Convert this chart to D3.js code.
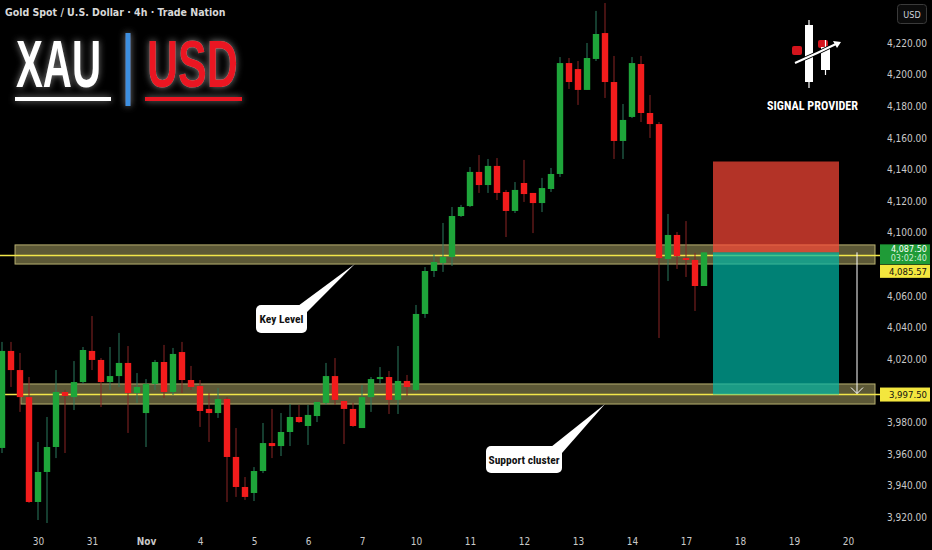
<!DOCTYPE html>
<html><head><meta charset="utf-8">
<script src="https://cdn.jsdelivr.net/npm/d3@7"></script>
<style>
html,body{margin:0;padding:0;background:#000;}
svg{display:block;}
</style></head><body>
<svg id="c" width="932" height="550"></svg>
<script>
// ---------- DATA ----------
const dayLabels = ["30","31","Nov","4","5","6","7","10","11","12","13","14","17","18","19","20"];
const candlesPerDay = 6;
const firstCandle = -4; // candles before first labelled day start
const opens  = [3963.7,4025.1,4013.0,3995.9,3929.5,3948.5,3964.3,3999.1,3995.9,4005.4,4025.1,4019.4,4005.4,4009.2,4017.5,3998.5,3985.8,4004.2,4018.1,3999.1,4024.4,4006.7,4002.9,3988.4,3985.8,3994.7,3958.0,3939.0,3935.2,3949.1,3966.8,3964.9,3973.8,3983.3,3977.6,3983.9,3992.2,4009.2,3993.4,3988.4,3976.3,3995.9,4007.3,4008.6,3994.1,4006.1,4000.4,4048.5,4075.7,4080.8,4084.6,4110.5,4116.8,4138.4,4130.1,4142.2,4125.7,4113.7,4131.4,4125.1,4118.7,4127.6,4137.1,4207.3,4203.5,4190.3,4209.9,4226.3,4195.3,4158.0,4173.2,4206.7,4175.7,4168.7,4083.3,4098.5,4083.9,4082.7,4066.2];
const highs  = [4030.8,4030.8,4023.8,4008.6,3967.5,3983.3,4013.0,4000.4,4018.7,4027.6,4047.2,4020.6,4027.6,4036.5,4028.2,4011.1,4007.3,4019.4,4028.9,4027.0,4030.8,4015.6,4006.7,3998.5,4001.6,3995.9,3976.3,3945.3,3951.6,3979.5,3988.4,3985.8,3991.5,3990.9,3990.9,3992.8,4017.5,4020.6,3993.4,3992.2,4003.5,4008.6,4014.9,4012.4,4028.2,4009.9,4054.2,4078.2,4086.5,4106.1,4116.2,4117.5,4141.5,4149.1,4146.6,4147.2,4127.0,4132.0,4146.0,4125.1,4134.6,4140.9,4211.1,4210.5,4208.6,4220.0,4240.3,4245.3,4211.8,4181.4,4211.1,4211.8,4187.1,4170.0,4111.8,4100.4,4107.3,4087.1,4087.5];
const lows   = [3960.5,4002.3,3986.5,3928.9,3918.1,3916.2,3957.3,3960.5,3987.7,4004.2,4013.0,3989.6,4000.4,4002.3,3973.2,3992.2,3964.3,4000.4,3995.3,3997.2,3998.5,4000.4,3977.0,3967.5,3982.7,3929.5,3932.7,3930.8,3930.1,3947.8,3957.3,3958.6,3964.9,3979.5,3965.6,3980.1,3990.9,3990.9,3966.2,3977.0,3976.3,3986.5,4004.2,3985.2,3985.2,3996.6,3999.7,4046.0,4071.9,4075.1,4078.9,4109.9,4116.2,4125.1,4125.1,4120.6,4097.2,4112.4,4119.4,4099.7,4113.0,4125.7,4135.2,4190.9,4180.8,4190.3,4208.6,4185.2,4146.6,4146.6,4172.5,4170.0,4159.9,4033.3,4069.4,4077.0,4071.9,4050.4,4066.2];
const closes = [4025.1,4013.0,3995.9,3929.5,3948.5,3964.3,3999.1,3996.6,4005.4,4025.7,4019.4,4005.4,4009.2,4017.5,3998.5,4002.3,4004.2,4018.1,3999.1,4023.2,4006.7,4002.3,3987.1,3985.8,3994.7,3958.0,3939.0,3932.7,3949.1,3966.8,3964.9,3973.8,3983.3,3980.1,3984.6,3992.8,4009.2,3994.1,3988.4,3977.6,3995.9,4007.3,4008.6,3994.1,4006.1,4002.3,4048.5,4075.7,4081.4,4084.6,4110.5,4116.2,4138.4,4130.1,4142.2,4125.1,4113.7,4127.0,4124.4,4118.7,4128.2,4137.1,4207.3,4195.3,4190.3,4210.5,4225.7,4195.3,4158.0,4171.3,4207.3,4175.7,4168.7,4083.9,4098.5,4085.2,4082.7,4066.2,4087.5];
const yTicks = [3920,3940,3960,3980,4000,4020,4040,4060,4080,4100,4120,4140,4160,4180,4200,4220];
const keyZone = [4080.1, 4092.2];
const supportZone = [3991.5, 4004.2];
const keyLine = 4085.57;
const supportLine = 3997.5;
const lastPrice = 4087.5;
const countdown = "03:02:40";
const trade = {entry: 4087.5, stop: 4145, target: 3997.5};

// ---------- SCALES ----------
const svg = d3.select("#c");
const x = d3.scaleLinear().domain([-4, 74]).range([2, 704]);
const y = d3.scaleLinear().domain([3920, 4220]).range([517, 43]);
const axisX = 880;

svg.append("rect").attr("width",932).attr("height",550).attr("fill","#000");

const defs = svg.append("defs");
const glow = defs.append("filter").attr("id","glow").attr("x","-30%").attr("y","-30%").attr("width","160%").attr("height","160%");
glow.append("feGaussianBlur").attr("in","SourceAlpha").attr("stdDeviation",3.5).attr("result","b");
glow.append("feFlood").attr("flood-color","#ffffff").attr("flood-opacity",0.5);
glow.append("feComposite").attr("in2","b").attr("operator","in").attr("result","g");
const fm = glow.append("feMerge");
fm.append("feMergeNode").attr("in","g");
fm.append("feMergeNode").attr("in","SourceGraphic");

// ---------- ZONES ----------
function zone(z, line, x0) {
  const g = svg.append("g");
  g.append("rect").attr("x", x(x0)).attr("width", 875 - x(x0))
    .attr("y", y(z[1])).attr("height", y(z[0]) - y(z[1]))
    .attr("fill", "#5c5836").attr("stroke", "#b8b070").attr("stroke-width", 1);
  g.append("line").attr("x1", 0).attr("x2", axisX).attr("y1", y(line)).attr("y2", y(line))
    .attr("stroke", "#f2e64a").attr("stroke-width", 1.5);
}
zone(keyZone, keyLine, -2.55);
zone(supportZone, supportLine, -1.9);

// ---------- CANDLES ----------
const idx = opens.map((d,i)=>i+firstCandle);
const cg = svg.append("g");
idx.forEach((t,i)=>{
  const up = closes[i] >= opens[i];
  cg.append("line").attr("x1",x(t)).attr("x2",x(t))
    .attr("y1",y(highs[i])).attr("y2",y(lows[i]))
    .attr("stroke", up ? "#2a7a5e" : "#8a2424").attr("stroke-width",1);
  const top = y(Math.max(opens[i],closes[i])), bot = y(Math.min(opens[i],closes[i]));
  cg.append("rect").attr("x",x(t)-3.2).attr("width",6.4)
    .attr("y",top).attr("height",Math.max(1.5,bot-top))
    .attr("fill", up ? "#1ea53a" : "#f21c1c");
});

// ---------- POSITION TOOL ----------
svg.append("rect").attr("x",x(75)).attr("width",x(89)-x(75))
  .attr("y",y(trade.stop)).attr("height",y(trade.entry)-y(trade.stop))
  .attr("fill","rgb(255,72,56)").attr("opacity",0.7);
svg.append("rect").attr("x",x(75)).attr("width",x(89)-x(75))
  .attr("y",y(trade.entry)).attr("height",y(trade.target)-y(trade.entry))
  .attr("fill","rgb(0,184,166)").attr("opacity",0.7);
const ax = x(91);
svg.append("line").attr("x1",ax).attr("x2",ax).attr("y1",y(trade.entry)).attr("y2",y(trade.target)-1)
  .attr("stroke","#ffffff").attr("stroke-width",1);
svg.append("path").attr("d",`M${ax-6},${y(trade.target)-7}L${ax},${y(trade.target)-1}L${ax+6},${y(trade.target)-7}`)
  .attr("fill","none").attr("stroke","#ffffff").attr("stroke-width",1);

// ---------- CALLOUTS ----------
function callout(text, bx, by, bw, bh, base, tip) {
  const g = svg.append("g");
  g.append("path").attr("d",`M${base[0][0]},${base[0][1]}L${tip[0]},${tip[1]}L${base[1][0]},${base[1][1]}Z`).attr("fill","#fff");
  g.append("rect").attr("x",bx).attr("y",by).attr("width",bw).attr("height",bh).attr("rx",5).attr("fill","#fff");
  g.append("text").attr("x",bx+bw/2).attr("y",by+bh/2+4).attr("text-anchor","middle")
    .attr("font-family","'Liberation Sans Narrow','Roboto Condensed','DejaVu Sans Condensed',Arial,sans-serif")
    .attr("font-size",11.5).attr("font-weight","bold").attr("fill","#111").text(text);
}
callout("Key Level", 256, 305, 51, 28, [[298,306],[307,312]], [x(35.2), y(keyZone[0])]);
callout("Support cluster", 486, 446, 76, 27, [[551,447],[562,453]], [x(63), y(supportZone[0])]);

// ---------- AXES ----------
const fontAxis = "'Liberation Sans Narrow','DejaVu Sans Condensed',Arial,sans-serif";
const boxed = [lastPrice, keyLine, supportLine];
const yAxis = svg.append("g").attr("transform",`translate(${axisX},0)`)
  .call(d3.axisRight(y).tickValues(yTicks).tickFormat(d3.format(",.2f")).tickSize(0).tickPadding(0));
yAxis.select(".domain").remove();
yAxis.selectAll("text").attr("x",47).attr("text-anchor","end").attr("fill","#c9c9c9")
  .attr("font-family",fontAxis).attr("font-size",10);
// hide tick labels covered by price boxes (as the reference does)
yAxis.selectAll(".tick").filter(d => boxed.some(b => Math.abs(y(b) - y(d)) < 16)).remove();

const xAxis = svg.append("g").attr("transform","translate(0,537)")
  .call(d3.axisBottom(x).tickValues(dayLabels.map((d,k)=>k*candlesPerDay)).tickFormat((d,k)=>dayLabels[k]).tickSize(0).tickPadding(0));
xAxis.select(".domain").remove();
xAxis.selectAll("text").attr("fill","#c9c9c9").attr("font-family",fontAxis).attr("font-size",10)
  .attr("dy","0.75em").attr("font-weight",(d,k)=>dayLabels[k]==="Nov"?"bold":"normal");

// price labels on axis
function priceBox(yTop, h, fill, lines, color, fs) {
  const g = svg.append("g");
  g.append("rect").attr("x",axisX).attr("y",yTop).attr("width",50).attr("height",h).attr("fill",fill);
  lines.forEach((l,k)=>{
    g.append("text").attr("x",927).attr("y",yTop + (lines.length===1 ? h/2+3.3 : 8 + k*9)).attr("text-anchor","end")
      .attr("font-family",fontAxis).attr("font-size",fs).attr("fill",l.c||color).text(l.t);
  });
}
priceBox(y(lastPrice)-8, 20, "#1f9b37", [{t:d3.format(",.2f")(lastPrice)},{t:countdown,c:"#cdeed3"}], "#ffffff", 9);
priceBox(y(lastPrice)+12.5, 13, "#f3e63e", [{t:d3.format(",.2f")(keyLine)}], "#111", 9.5);
priceBox(y(supportLine)-7, 14, "#f3e63e", [{t:d3.format(",.2f")(supportLine)}], "#111", 9.5);

// USD box
svg.append("rect").attr("x",897.5).attr("y",4.5).attr("width",29).attr("height",19).attr("rx",3)
  .attr("fill","#0b0b0b").attr("stroke","#3a3a3a");
svg.append("text").attr("x",912).attr("y",17.5).attr("text-anchor","middle").attr("font-family",fontAxis)
  .attr("font-size",9).attr("fill","#d1d4dc").text("USD");

// ---------- HEADER ----------
svg.append("text").attr("x",5).attr("y",16).attr("font-family",fontAxis).attr("font-size",10.5)
  .attr("font-weight","bold").attr("fill","#d8d8d8").text("Gold Spot / U.S. Dollar · 4h · Trade Nation");

const logo = svg.append("g").attr("filter","url(#glow)");
logo.append("text").attr("x",16).attr("y",87).attr("font-family","'Liberation Sans','Open Sans',Arial,sans-serif")
  .attr("font-weight","bold").attr("font-size",66).attr("textLength",85).attr("lengthAdjust","spacingAndGlyphs")
  .attr("fill","#ffffff").text("XAU");
logo.append("rect").attr("x",15).attr("y",97).attr("width",96).attr("height",4).attr("fill","#ffffff");
logo.append("rect").attr("x",125.5).attr("y",33).attr("width",5).attr("height",73).attr("fill","#3d8fe0");
logo.append("text").attr("x",147).attr("y",87).attr("font-family","'Liberation Sans','Open Sans',Arial,sans-serif")
  .attr("font-weight","bold").attr("font-size",66).attr("textLength",91).attr("lengthAdjust","spacingAndGlyphs")
  .attr("fill","#ea1520").text("USD");
logo.append("rect").attr("x",145).attr("y",97).attr("width",97).attr("height",4).attr("fill","#ea1520");

// ---------- SIGNAL PROVIDER LOGO ----------
const sp = svg.append("g");
sp.append("rect").attr("x",792).attr("y",46).attr("width",10).attr("height",9).attr("rx",2).attr("fill","#d4141c");
sp.append("rect").attr("x",818).attr("y",40).attr("width",10).attr("height",8).attr("rx",2).attr("fill","#d4141c");
sp.append("line").attr("x1",809).attr("x2",809).attr("y1",20).attr("y2",88).attr("stroke","#fff").attr("stroke-width",1.2);
sp.append("rect").attr("x",805).attr("y",25).attr("width",8).attr("height",57).attr("fill","#fff");
sp.append("line").attr("x1",825.5).attr("x2",825.5).attr("y1",40).attr("y2",75).attr("stroke","#fff").attr("stroke-width",1.2);
sp.append("rect").attr("x",821).attr("y",47).attr("width",9).attr("height",23).attr("fill","#fff");
sp.append("path").attr("d","M795,63 Q818,53 838,43").attr("fill","none").attr("stroke","#000").attr("stroke-width",4);
sp.append("path").attr("d","M795,63 Q818,53 838,43").attr("fill","none").attr("stroke","#fff").attr("stroke-width",2);
sp.append("path").attr("d","M833,41 L841,42 L837,48 Z").attr("fill","#fff");
sp.append("text").attr("x",767).attr("y",110).attr("font-family","'Liberation Sans Narrow','Roboto Condensed',Arial,sans-serif")
  .attr("font-weight","bold").attr("font-size",13).attr("textLength",91).attr("lengthAdjust","spacingAndGlyphs")
  .attr("fill","#fff").text("SIGNAL PROVIDER");
</script>
</body></html>
